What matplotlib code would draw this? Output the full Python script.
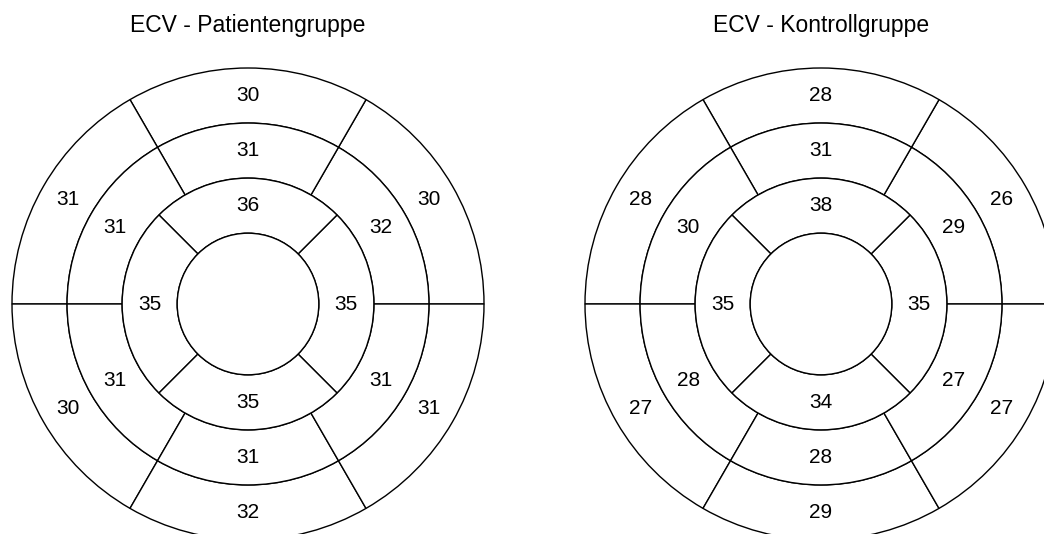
#!/usr/bin/env python3
# -*- coding: utf-8 -*-
import numpy as np
import matplotlib
matplotlib.use("Agg")
import matplotlib.pyplot as plt
from matplotlib.patches import Wedge, Circle

plt.rcParams['font.family'] = ['Liberation Sans', 'DejaVu Sans']

## Titel der beiden Diagramme ##
titel_patienten = "ECV - Patientengruppe"
titel_kontrolle = "ECV - Kontrollgruppe"

## Werte, aussen/mitte in Winkelreihenfolge 30, 90, 150, 210, 270, 330 Grad ##
## innen in Reihenfolge 0, 90, 180, 270 Grad ##
patienten_aussen = [30, 30, 31, 30, 32, 31]
patienten_mitte = [32, 31, 31, 31, 31, 31]
patienten_innen = [35, 36, 35, 35]

kontrolle_aussen = [26, 28, 28, 27, 29, 27]
kontrolle_mitte = [29, 31, 30, 28, 28, 27]
kontrolle_innen = [35, 38, 35, 34]

## Radien der Ringe ##
radien = np.linspace(0.3, 1.0, 4)


def ring(ax, werte, r_innen, r_aussen, start):
    n = len(werte)
    breite = 360.0 / n
    for i, w in enumerate(werte):
        mitte = start + i * breite
        ax.add_patch(Wedge((0, 0), r_aussen, mitte - breite / 2, mitte + breite / 2,
                           width=r_aussen - r_innen, facecolor='white',
                           edgecolor='black', linewidth=1.0))
        r_text = (r_innen + r_aussen) / 2
        ax.text(r_text * np.cos(np.radians(mitte)), r_text * np.sin(np.radians(mitte)),
                str(w), ha='center', va='center', fontsize=15)


def bullseye(ax, aussen, mitte, innen, titel):
    ring(ax, aussen, radien[2], radien[3], 30)
    ring(ax, mitte, radien[1], radien[2], 30)
    ring(ax, innen, radien[0], radien[1], 0)
    ax.add_patch(Circle((0, 0), radien[0], facecolor='white',
                        edgecolor='black', linewidth=1.0))
    ax.text(0, 1.182, titel, ha='center', va='center', fontsize=16.5, clip_on=False)
    ax.set_xlim(-1.05, 1.05)
    ax.set_ylim(-1.05, 1.05)
    ax.set_aspect('equal')
    ax.axis('off')


fig = plt.figure(figsize=(10.44, 5.34), dpi=100)
## Position der Achsen in Pixel (Mittelpunkt und Radius) ##
r_px = 236 * 1.05
for cx, aussen, mitte, innen, titel in [
        (248, patienten_aussen, patienten_mitte, patienten_innen, titel_patienten),
        (821, kontrolle_aussen, kontrolle_mitte, kontrolle_innen, titel_kontrolle)]:
    ax = fig.add_axes([(cx - r_px) / 1044, (230 - r_px) / 534, 2 * r_px / 1044, 2 * r_px / 534])
    bullseye(ax, aussen, mitte, innen, titel)

fig.savefig("out.png", dpi=100)
